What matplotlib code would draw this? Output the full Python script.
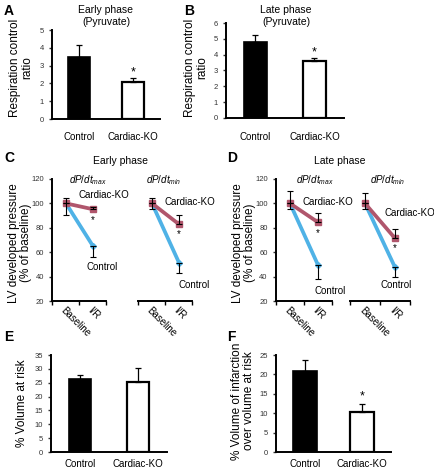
"""
Six-panel figure: respiration control ratio, LV developed pressure (dP/dt)
and infarct size for Control vs Cardiac-KO hearts.
Saved to out.png.
"""

import matplotlib
matplotlib.use("Agg")
import matplotlib.pyplot as plt

plt.rcParams["font.family"] = ["Liberation Sans", "DejaVu Sans"]
plt.rcParams["mathtext.fontset"] = "custom"
plt.rcParams["mathtext.it"] = "Liberation Sans:italic"
plt.rcParams["mathtext.rm"] = "Liberation Sans"

# ---- data ----
groups = ["Control", "Cardiac-KO"]

# A: early phase respiration control ratio
rcr_early = [3.5, 2.1]
rcr_early_err = [0.65, 0.18]
# B: late phase
rcr_late = [4.78, 3.6]
rcr_late_err = [0.45, 0.18]

# C/D: LV developed pressure, % of baseline
timepoints = ["Baseline", "I/R"]
early_max_ko = [100, 95.2]
early_max_ko_err = [4.2, 1.6]
early_max_ctrl = [100, 65]
early_max_ctrl_err = [9.5, 9.2]
early_min_ko = [100, 82.9]
early_min_ko_err = [4.2, 7.6]
early_min_ctrl = [100, 51.4]
early_min_ctrl_err = [4.6, 8.7]

late_max_ko = [100, 84.5]
late_max_ko_err = [10.4, 7.4]
late_max_ctrl = [100, 49.5]
late_max_ctrl_err = [4.8, 11.7]
late_min_ko = [100, 71.4]
late_min_ko_err = [8.8, 7.4]
late_min_ctrl = [100, 47.6]
late_min_ctrl_err = [4.8, 8.2]

# E: % volume at risk
var_vals = [26.3, 25.1]
var_err = [1.5, 5.3]
# F: % infarction over volume at risk
inf_vals = [20.9, 10.4]
inf_err = [2.7, 1.9]

W, H = 435, 469
KO_COLOR = "#b0566c"
CTRL_COLOR = "#4fb2e6"

fig = plt.figure(figsize=(W / 100, H / 100), dpi=100)


def add_ax(left, top, right, bottom):
    return fig.add_axes([left / W, 1 - bottom / H, (right - left) / W, (bottom - top) / H])


def style(ax, left_spine=True):
    for s in ["top", "right"]:
        ax.spines[s].set_visible(False)
    ax.spines["bottom"].set_linewidth(1.4)
    ax.spines["left"].set_linewidth(1.4)
    if not left_spine:
        ax.spines["left"].set_visible(False)
        ax.set_yticks([])
    ax.tick_params(axis="y", labelsize=5.5, length=2.5, width=1, pad=3.5, colors="#333333")
    ax.patch.set_alpha(0)


def bar_panel(ax, vals, errs, ymax, step, star=None, width=0.4, pad=9):
    style(ax)
    x = [0, 1]
    ax.bar(x[0], vals[0], width=width, color="black", edgecolor="black", lw=1.2)
    ax.bar(x[1], vals[1], width=width, color="white", edgecolor="black", lw=1.6)
    ax.errorbar(x, vals, yerr=[[0, 0], errs], fmt="none", ecolor="black",
                elinewidth=0.9, capsize=2.2, capthick=0.9)
    ax.set_xlim(-0.5, 1.5)
    ax.set_ylim(0, ymax)
    ax.set_yticks(range(0, int(ymax) + 1, step))
    ax.set_xticks(x)
    ax.set_xticklabels(groups, fontsize=7)
    ax.tick_params(axis="x", length=0, pad=pad)
    if star is not None:
        ax.text(1, star, "*", ha="center", va="center", fontsize=9)


def line_panel(ax, ko, ko_err, ctrl, ctrl_err, left_spine, sub, labels):
    style(ax, left_spine)
    x = [0, 1]
    ax.plot(x, ctrl, color=CTRL_COLOR, lw=2.7, marker="D", ms=3, zorder=3)
    ax.plot(x, ko, color=KO_COLOR, lw=2.7, marker="s", ms=4.5, zorder=4)
    ax.errorbar(x, ctrl, yerr=[ctrl_err, [0, 0]], fmt="none", ecolor="black",
                elinewidth=0.8, capsize=2, capthick=0.8, zorder=5)
    ax.errorbar(x, ko, yerr=[[0, 0], ko_err], fmt="none", ecolor="black",
                elinewidth=0.8, capsize=2, capthick=0.8, zorder=5)
    ax.set_xlim(-0.5, 1.5)
    ax.set_ylim(20, 120)
    if left_spine:
        ax.set_yticks(range(20, 121, 20))
    ax.set_xticks(x)
    ax.set_xticklabels(timepoints, fontsize=7, rotation=-45, ha="left",
                       va="top", rotation_mode="anchor")
    ax.tick_params(axis="x", length=0, pad=3)
    ax.set_xticks([-0.5, 0.5, 1.5], minor=True)
    ax.tick_params(axis="x", which="minor", length=3, width=1)
    ax.text(sub[0], 119.5, sub[1], ha="center", va="center", fontsize=7, clip_on=False)
    for (tx, ty, txt) in labels:
        ax.text(tx, ty, txt, ha="center", va="center", fontsize=7, clip_on=False)


# ---- A ----
axA = add_ax(52, 30, 160, 119)
bar_panel(axA, rcr_early, rcr_early_err, 5, 1, star=2.6, width=0.41, pad=9.5)
# ---- B ----
axB = add_ax(226, 23, 344, 118)
bar_panel(axB, rcr_late, rcr_late_err, 6, 1, star=4.15, width=0.4, pad=10)

# ---- C ----
axC1 = add_ax(52.5, 179, 106.5, 301)
line_panel(axC1, early_max_ko, early_max_ko_err, early_max_ctrl, early_max_ctrl_err,
           True, (0.8, r"$dP/dt_{max}$"),
           [(1.4, 107, "Cardiac-KO"), (1.33, 48, "Control"), (1, 86.5, "*")])
axC2 = add_ax(138.5, 179, 192.5, 301)
line_panel(axC2, early_min_ko, early_min_ko_err, early_min_ctrl, early_min_ctrl_err,
           False, (0.45, r"$dP/dt_{min}$"),
           [(1.4, 101, "Cardiac-KO"), (1.55, 33, "Control"), (1, 75, "*")])

# ---- D ----
axD1 = add_ax(276, 179, 332, 301)
line_panel(axD1, late_max_ko, late_max_ko_err, late_max_ctrl, late_max_ctrl_err,
           True, (0.9, r"$dP/dt_{max}$"),
           [(1.36, 101, "Cardiac-KO"), (1.45, 28, "Control"), (1, 76, "*")])
axD2 = add_ax(350, 179, 410, 301)
line_panel(axD2, late_min_ko, late_min_ko_err, late_min_ctrl, late_min_ctrl_err,
           False, (0.75, r"$dP/dt_{min}$"),
           [(1.5, 92, "Cardiac-KO"), (1.05, 33, "Control"), (1, 63, "*")])

# ---- E ----
axE = add_ax(51, 355, 167, 452)
bar_panel(axE, var_vals, var_err, 35, 5, width=0.39, pad=5)
# ---- F ----
axF = add_ax(276, 355, 391, 452)
bar_panel(axF, inf_vals, inf_err, 25, 5, star=14.3, width=0.41, pad=5)

# ---- titles, y labels, panel letters (figure pixel coords) ----
def ftext(x, y, s, **kw):
    fig.text(x / W, 1 - y / H, s, **kw)


ftext(106, 16, "Early phase\n(Pyruvate)", ha="center", va="center", fontsize=7.5, linespacing=1.2)
ftext(286, 16, "Late phase\n(Pyruvate)", ha="center", va="center", fontsize=7.5, linespacing=1.2)
ftext(121, 161, "Early phase", ha="center", va="center", fontsize=7.5)
ftext(340, 161, "Late phase", ha="center", va="center", fontsize=7.5)

ylab = dict(ha="center", va="center", rotation=90, fontsize=8.5, linespacing=1.1)
ftext(21, 68, "Respiration control\nratio", **ylab)
ftext(196, 68, "Respiration control\nratio", **ylab)
ftext(20, 243, "LV developed pressure\n(% of baseline)", **ylab)
ftext(244, 243, "LV developed pressure\n(% of baseline)", **ylab)
ftext(22, 403, "% Volume at risk", **ylab)
ftext(243, 401, "% Volume of infarction\nover volume at risk", **ylab)

let = dict(ha="left", va="center", fontsize=10, fontweight="bold")
ftext(4, 11, "A", **let)
ftext(184, 11, "B", **let)
ftext(4, 158, "C", **let)
ftext(227, 158, "D", **let)
ftext(4, 337, "E", **let)
ftext(227, 337, "F", **let)

fig.savefig("out.png", dpi=100)
